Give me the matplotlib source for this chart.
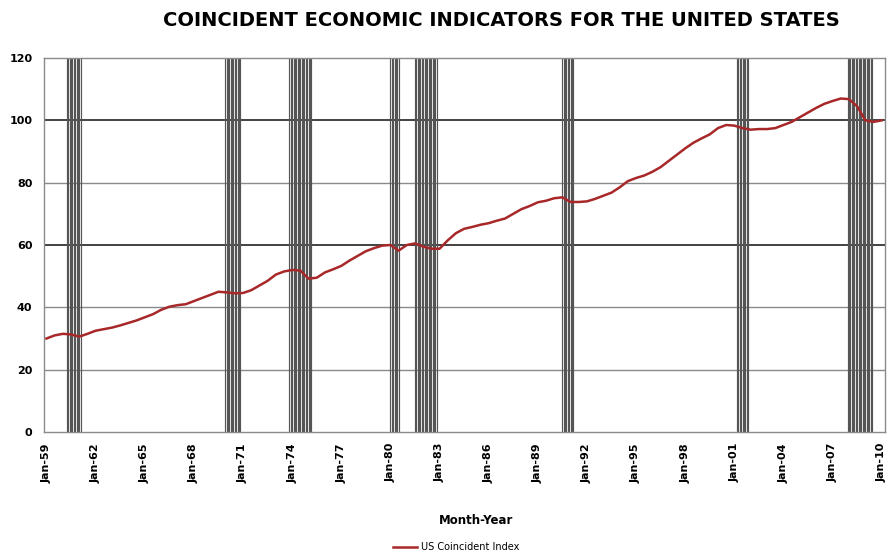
import numpy as np
import matplotlib
matplotlib.use("Agg")
import matplotlib.pyplot as plt

# semi-annual readings (Jan, Jul) of the US coincident index, Jan 1959 .. Jan 2010
index_values = [
    30.0, 31.0,   # 1959
    31.5, 31.3,   # 1960
    30.6, 31.5,   # 1961
    32.5, 33.0,   # 1962
    33.5, 34.2,   # 1963
    35.0, 35.8,   # 1964
    36.8, 37.8,   # 1965
    39.2, 40.2,   # 1966
    40.7, 41.0,   # 1967
    42.0, 43.0,   # 1968
    44.0, 45.0,   # 1969
    44.8, 44.5,   # 1970
    44.6, 45.5,   # 1971
    47.0, 48.5,   # 1972
    50.5, 51.5,   # 1973
    52.0, 51.8,   # 1974
    49.2, 49.5,   # 1975
    51.2, 52.2,   # 1976
    53.3, 55.0,   # 1977
    56.5, 58.0,   # 1978
    59.0, 59.8,   # 1979
    60.0, 58.2,   # 1980
    60.0, 60.5,   # 1981
    59.5, 58.8,   # 1982
    58.8, 61.5,   # 1983
    63.8, 65.2,   # 1984
    65.8, 66.5,   # 1985
    67.0, 67.8,   # 1986
    68.5, 70.0,   # 1987
    71.5, 72.5,   # 1988
    73.7, 74.2,   # 1989
    75.0, 75.3,   # 1990
    73.8, 73.8,   # 1991
    74.0, 74.8,   # 1992
    75.8, 76.8,   # 1993
    78.5, 80.5,   # 1994
    81.5, 82.3,   # 1995
    83.5, 85.0,   # 1996
    87.0, 89.0,   # 1997
    91.0, 92.8,   # 1998
    94.2, 95.5,   # 1999
    97.5, 98.5,   # 2000
    98.3, 97.5,   # 2001
    97.0, 97.2,   # 2002
    97.2, 97.5,   # 2003
    98.5, 99.5,   # 2004
    101.0, 102.5, # 2005
    104.0, 105.3, # 2006
    106.2, 107.0, # 2007
    106.8, 104.5, # 2008
    100.0, 99.5,  # 2009
    100.0,        # 2010
]
dates = 1959 + 0.5 * np.arange(len(index_values))

# recessions (start year, start month, end year, end month)
recessions = [
    (1960, 4, 1961, 2),
    (1969, 12, 1970, 11),
    (1973, 11, 1975, 3),
    (1980, 1, 1980, 7),
    (1981, 7, 1982, 11),
    (1990, 7, 1991, 3),
    (2001, 3, 2001, 11),
    (2007, 12, 2009, 6),
]

tick_years = list(range(1959, 2011, 3))
tick_labels = ["Jan-%02d" % (y % 100) for y in tick_years]

fig = plt.figure(figsize=(8.89, 5.56), dpi=100)
ax = fig.add_axes([0.049, 0.223, 0.9465, 0.6727])

# recession shading as monthly stripes
for y0, m0, y1, m1 in recessions:
    months = np.arange(y0 * 12 + m0 - 1, y1 * 12 + m1)
    for m in months:
        ax.axvline(m / 12.0, color="#555555", lw=0.85, zorder=1)

# horizontal grid lines
for v in [20, 40, 80]:
    ax.axhline(v, color="#8a8a8a", lw=1.0, zorder=0.5)
for v in [60, 100]:
    ax.axhline(v, color="#222222", lw=1.2, zorder=0.5)

ax.plot(dates, index_values, color="#a8282a", lw=1.8, zorder=3,
        label="US Coincident Index")

ax.set_xlim(1958.82, 2010.2)
ax.set_ylim(0, 120)
ax.set_yticks(range(0, 121, 20))
ax.set_xticks(tick_years)
ax.set_xticklabels(tick_labels, rotation=90, fontsize=8, fontweight="bold")
for lab in ax.get_yticklabels():
    lab.set_fontsize(8)
    lab.set_fontweight("bold")
ax.tick_params(length=0, pad=8)
for s in ax.spines.values():
    s.set_color("#8a8a8a")
    s.set_linewidth(1.0)

fig.text(0.564, 0.963, "COINCIDENT ECONOMIC INDICATORS FOR THE UNITED STATES",
         ha="center", va="center", fontsize=14, fontweight="bold")
fig.text(0.536, 0.063, "Month-Year", ha="center", va="center",
         fontsize=8.5, fontweight="bold")
fig.legend(loc="center", bbox_to_anchor=(0.513, 0.016), frameon=False,
           fontsize=7, handlelength=2.5, handletextpad=0.4)

fig.savefig("out.png", dpi=100, facecolor="white")
